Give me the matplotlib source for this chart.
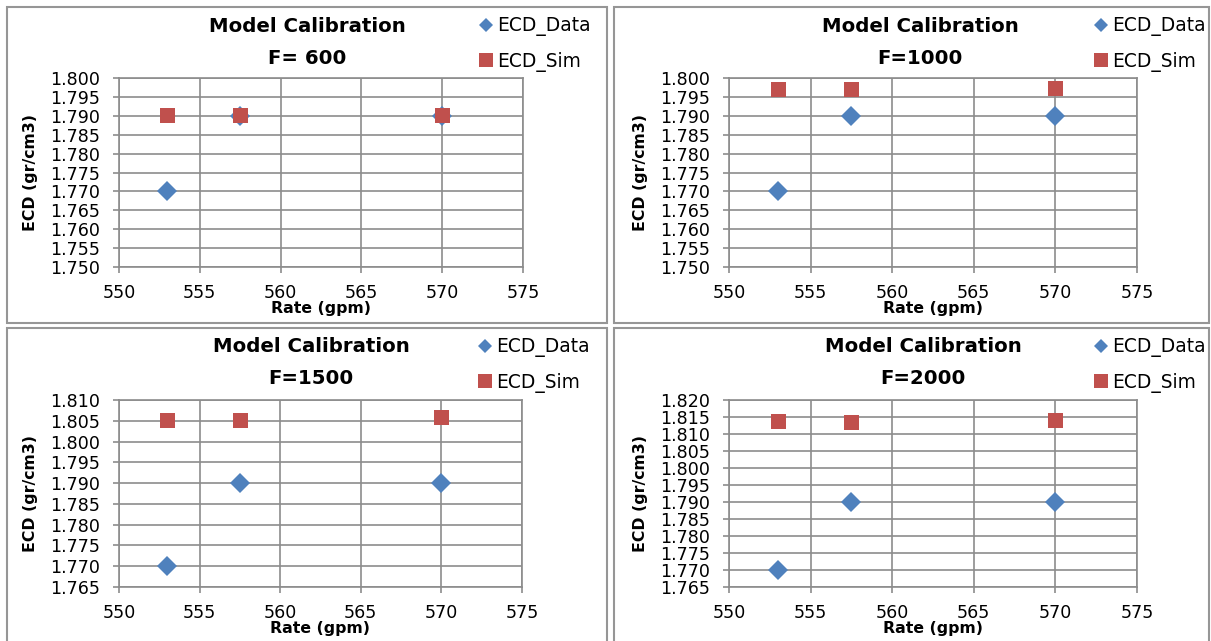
import matplotlib

matplotlib.use("Agg")
import matplotlib.pyplot as plt
import numpy as np
from matplotlib.lines import Line2D
from matplotlib.patches import Rectangle

plt.rcParams["font.family"] = ["DejaVu Sans"]

# flow rates (gpm) shared by all four calibration runs
rate = [553.0, 557.5, 570.0]

# measured ECD (gr/cm3)
ecd_data = [1.770, 1.790, 1.790]

# simulated ECD for each friction factor F
f_labels = ["F= 600", "F=1000", "F=1500", "F=2000"]
ecd_sim_600 = [1.7903, 1.7901, 1.7903]
ecd_sim_1000 = [1.7970, 1.7970, 1.7973]
ecd_sim_1500 = [1.8053, 1.8053, 1.8058]
ecd_sim_2000 = [1.8138, 1.8136, 1.8142]

# y-axis ranges per panel (min, max)
y_ranges = [(1.750, 1.800), (1.750, 1.800), (1.765, 1.810), (1.765, 1.820)]

W, H = 1211, 641
BLUE = "#4f81bd"
RED = "#c0504d"
GRID = "#8c8c8c"


def fx(px):
    return px / W


def fy(py):
    return 1 - py / H


fig = plt.figure(figsize=(W / 100, H / 100), dpi=100)

# chart frames (x0, y0, x1, y1 in pixels)
frames = [(7, 7, 607, 323), (614, 7, 1209, 323), (7, 328, 607, 660), (614, 328, 1209, 660)]
# plot areas
plot_boxes = [(119, 78, 523, 267), (729, 78, 1137, 267), (119, 400, 522, 587), (729, 400, 1137, 587)]
title_x = [307, 920, 311, 923]
legend_x = [479, 1094, 478, 1094]

sims = [ecd_sim_600, ecd_sim_1000, ecd_sim_1500, ecd_sim_2000]

for i in range(4):
    x0, y0, x1, y1 = frames[i]
    fig.patches.append(
        Rectangle((fx(x0), fy(y1)), fx(x1 - x0), (y1 - y0) / H, transform=fig.transFigure,
                  fill=False, edgecolor="#969696", linewidth=1.5, zorder=0)
    )

    l, t, r, b = plot_boxes[i]
    ax = fig.add_axes([fx(l), fy(b), fx(r - l), (b - t) / H])
    ax.plot(rate, ecd_data, linestyle="none", marker="D", ms=10.5, color=BLUE, mew=0, zorder=3)
    ax.plot(rate, sims[i], linestyle="none", marker="s", ms=10.8, color=RED, mew=0, zorder=4)

    ax.set_xlim(550, 575)
    ax.set_xticks(np.arange(550, 576, 5))
    lo, hi = y_ranges[i]
    ax.set_ylim(lo, hi)
    ax.set_yticks(np.arange(lo, hi + 0.0001, 0.005))
    ax.yaxis.set_major_formatter(matplotlib.ticker.FormatStrFormatter("%.3f"))

    ax.grid(True, color=GRID, linewidth=1.2)
    ax.set_axisbelow(True)
    for s in ax.spines.values():
        s.set_color(GRID)
        s.set_linewidth(1.2)
    ax.tick_params(axis="both", direction="out", length=4.5, width=1.2, color=GRID,
                   labelsize=12.6, labelcolor="black")
    ax.tick_params(axis="y", pad=9)
    ax.tick_params(axis="x", pad=8)

    ty = y0 + 19
    fig.text(fx(title_x[i]), fy(ty), "Model Calibration", ha="center", va="center",
             fontsize=14.2, fontweight="bold")
    fig.text(fx(title_x[i]), fy(ty + 32), f_labels[i], ha="center", va="center",
             fontsize=14.2, fontweight="bold")

    fig.text(fx((l + r) / 2), fy(b + 41), "Rate (gpm)", ha="center", va="center",
             fontsize=11.3, fontweight="bold")
    fig.text(fx(l - 89), fy((t + b) / 2), "ECD (gr/cm3)", ha="center", va="center",
             rotation=90, fontsize=11.3, fontweight="bold")

    handles = [
        Line2D([], [], linestyle="none", marker="D", ms=7.5, color=BLUE, mew=0),
        Line2D([], [], linestyle="none", marker="s", ms=9.5, color=RED, mew=0),
    ]
    fig.legend(handles, ["ECD_Data", "ECD_Sim"], loc="center left",
               bbox_to_anchor=(fx(legend_x[i]), fy(y0 + 37)), frameon=False,
               fontsize=13.4, handlelength=0.7, handletextpad=0.3, labelspacing=0.85,
               borderpad=0, borderaxespad=0)

fig.savefig("out.png", dpi=100)
